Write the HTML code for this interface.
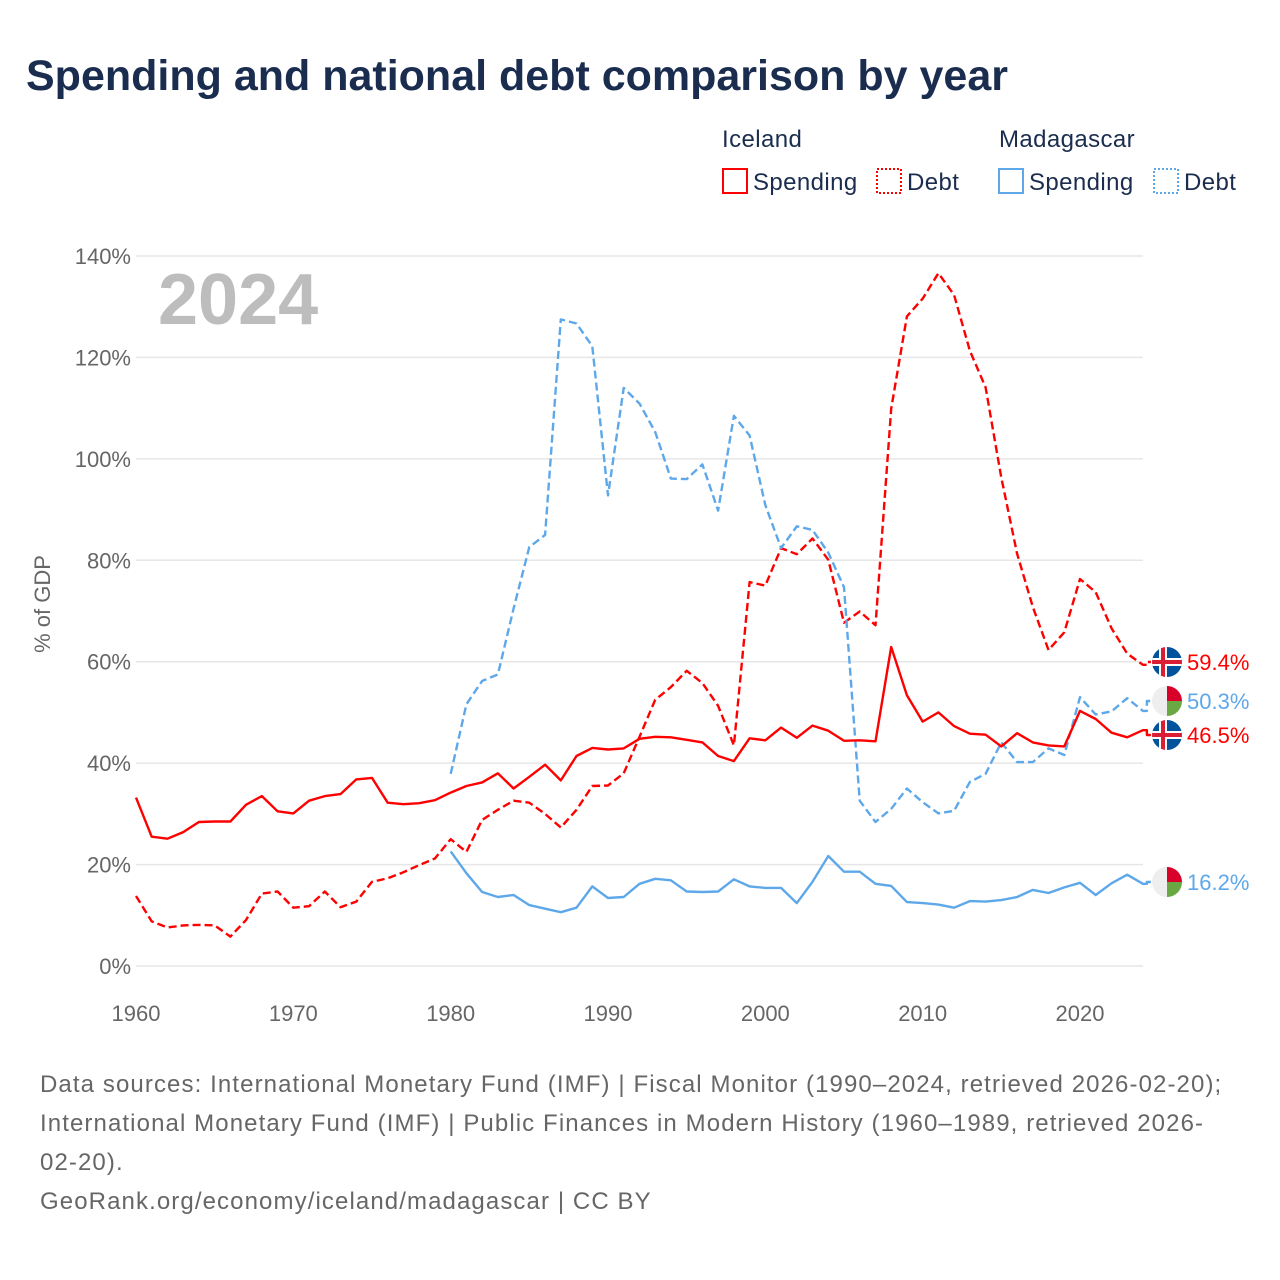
<!DOCTYPE html>
<html><head><meta charset="utf-8">
<style>
body{margin:0;background:#fff;font-family:"Liberation Sans",sans-serif;}
#wrap{position:relative;width:1280px;height:1280px;overflow:hidden;}
h1{position:absolute;left:26px;top:52px;margin:0;font-size:43px;font-weight:bold;color:#1b2d4f;letter-spacing:0px;}
.src{position:absolute;left:40px;top:1065px;font-size:24px;line-height:39px;color:#666;width:1200px;letter-spacing:1.1px;}
svg text{font-family:"Liberation Sans",sans-serif;}
</style></head><body>
<div id="wrap">
<h1>Spending and national debt comparison by year</h1>
<svg id="chart" width="1280" height="1280" style="position:absolute;left:0;top:0"></svg>
<div class="src">Data sources: International Monetary Fund (IMF) | Fiscal Monitor (1990–2024, retrieved 2026-02-20); International Monetary Fund (IMF) | Public Finances in Modern History (1960–1989, retrieved 2026-02-20).<br>GeoRank.org/economy/iceland/madagascar | CC BY</div>
</div>
<script>
const yTicks=[0,20,40,60,80,100,120,140];
const xTicks=[1960,1970,1980,1990,2000,2010,2020];
const isYears0=1960;
const isSpending=[33.2,25.5,25.1,26.4,28.4,28.5,28.5,31.8,33.5,30.5,30.1,32.6,33.5,33.9,36.8,37.1,32.2,31.9,32.1,32.7,34.2,35.5,36.2,38.0,35.0,37.3,39.7,36.6,41.4,43.0,42.7,42.9,44.8,45.2,45.1,44.6,44.1,41.4,40.4,44.9,44.5,47.0,45.0,47.4,46.4,44.4,44.5,44.3,62.9,53.4,48.2,50.0,47.3,45.8,45.6,43.3,45.9,44.1,43.5,43.3,50.3,48.7,46.0,45.1,46.5];
const isDebt=[13.8,8.8,7.6,8.0,8.1,8.0,5.8,9.1,14.3,14.7,11.5,11.8,14.7,11.6,12.7,16.6,17.3,18.5,19.9,21.2,25.0,22.5,28.8,30.8,32.6,32.2,30.0,27.3,30.8,35.5,35.6,38.0,45.2,52.5,55.0,58.2,55.8,51.3,43.5,75.7,75.0,82.4,81.2,84.3,80.1,67.7,69.9,67.2,109.9,128.1,131.6,136.6,132.3,121.3,114.1,96.3,81.3,70.8,62.3,65.8,76.3,73.7,66.6,61.6,59.4];
const mgYears0=1980;
const mgDebt=[37.9,51.6,56.2,57.5,70.5,82.6,85.0,127.5,126.7,122.2,92.8,114.0,110.9,105.3,96.1,96.0,98.9,89.8,108.5,104.6,90.9,82.4,86.7,86.0,81.5,74.7,32.6,28.4,31.0,35.0,32.3,30.1,30.6,36.3,37.9,44.1,40.2,40.2,42.9,41.6,53.0,49.6,50.2,52.8,50.3];
const mgSpending=[22.6,18.3,14.6,13.6,14.0,12.0,11.3,10.6,11.5,15.7,13.4,13.6,16.2,17.2,16.9,14.7,14.6,14.7,17.1,15.7,15.4,15.4,12.4,16.6,21.7,18.6,18.6,16.2,15.8,12.6,12.4,12.1,11.5,12.8,12.7,13.0,13.6,15.0,14.4,15.5,16.4,14.0,16.3,18.0,16.2];

const NS="http://www.w3.org/2000/svg";
const svg=document.getElementById('chart');
const X=y=>136+(y-1960)*(944/60);
const Y=v=>966-v*(710/140);
function el(t,a,p){const e=document.createElementNS(NS,t);for(const k in a)e.setAttribute(k,a[k]);(p||svg).appendChild(e);return e;}
function txt(x,y,s,a){const e=el('text',Object.assign({x:x,y:y},a));e.textContent=s;return e;}

yTicks.forEach(v=>{
  const g=el('line',{x1:136,x2:1143,y1:Y(v),y2:Y(v),stroke:'#e6e6e6','stroke-width':1.5});
  
  
  const t=txt(131,Y(v)+8,v+'%',{'text-anchor':'end','font-size':22,fill:'#666'});
  
  
});
xTicks.forEach(yr=>{
  const t=txt(X(yr),1021,String(yr),{'text-anchor':'middle','font-size':22,fill:'#666'});
  
  
});
const yt=txt(0,0,'% of GDP',{transform:'translate(50,604) rotate(-90)','text-anchor':'middle','font-size':22,fill:'#666'});


const yr=txt(158,324,'2024',{'font-size':72,'font-weight':'bold',fill:'#bdbdbd'});



function series(arr,y0,color,dash,name,labelY){
  const pts=arr.map((v,i)=>X(y0+i).toFixed(1)+','+Y(v).toFixed(1));
  const last=arr[arr.length-1];
  pts.push((X(y0+arr.length-1)+4).toFixed(1)+','+Y(last).toFixed(1));
  pts.push((X(y0+arr.length-1)+4).toFixed(1)+','+labelY);
  pts.push((X(y0+arr.length-1)+8).toFixed(1)+','+labelY);
  const p=el('polyline',{points:pts.join(' '),fill:'none',stroke:color,'stroke-width':2.4,'stroke-dasharray':dash?'8,4':'none','stroke-linejoin':'round'});
  
  
  const t=txt(1187,labelY+8,last.toFixed(1)+'%',{'font-size':22,fill:color});
  
  
}
series(isDebt,isYears0,'#ff0000',true,'iceland-debt',662);
series(mgDebt,mgYears0,'#5ea8ea',true,'madagascar-debt',701);
series(isSpending,isYears0,'#ff0000',false,'iceland-spending',735);
series(mgSpending,mgYears0,'#5ea8ea',false,'madagascar-spending',882);

function flagIS(cy,name){
  const g=el('g',{});
  
  
  const cp=el('clipPath',{id:'c'+name},g);el('circle',{cx:1167,cy:cy,r:15},cp);
  const h=el('g',{'clip-path':'url(#c'+name+')'},g);
  el('rect',{x:1152,y:cy-15,width:30,height:30,fill:'#02529c'},h);
  el('rect',{x:1152,y:cy-4,width:30,height:8,fill:'#fff'},h);
  el('rect',{x:1159,y:cy-15,width:8,height:30,fill:'#fff'},h);
  el('rect',{x:1152,y:cy-2,width:30,height:4,fill:'#dc1e35'},h);
  el('rect',{x:1161,y:cy-15,width:4,height:30,fill:'#dc1e35'},h);
}
function flagMG(cy,name){
  const g=el('g',{});
  
  
  const cp=el('clipPath',{id:'c'+name},g);el('circle',{cx:1167,cy:cy,r:15},cp);
  const h=el('g',{'clip-path':'url(#c'+name+')'},g);
  el('rect',{x:1152,y:cy-15,width:30,height:30,fill:'#eeeeee'},h);
  el('rect',{x:1167,y:cy-15,width:15,height:15,fill:'#d9002a'},h);
  el('rect',{x:1167,y:cy,width:15,height:15,fill:'#6aa843'},h);
}
flagIS(662,'iceland-flag-debt');flagMG(701,'madagascar-flag-debt');flagIS(735,'iceland-flag-spending');flagMG(882,'madagascar-flag-spending');

function lg(x,y,s,a,name){const t=txt(x,y,s,a);}
lg(722,147,'Iceland',{'font-size':24,fill:'#1b2d4f','letter-spacing':0.4},'legend-group-iceland');
lg(999,147,'Madagascar',{'font-size':24,fill:'#1b2d4f','letter-spacing':0.4},'legend-group-madagascar');
function box(x,color,dash,label,name){
  const g=el('g',{});
  
  
  el('rect',{x:x,y:169,width:24,height:24,fill:'none',stroke:color,'stroke-width':2,'stroke-dasharray':dash?'2,2':'none'},g);
  const t=el('text',{x:x+30,y:190,'font-size':24,fill:'#1b2d4f','letter-spacing':0.4},g);t.textContent=label;
}
box(723,'#ff0000',false,'Spending','legend-iceland-spending');
box(877,'#ff0000',true,'Debt','legend-iceland-debt');
box(999,'#5ea8ea',false,'Spending','legend-madagascar-spending');
box(1154,'#5ea8ea',true,'Debt','legend-madagascar-debt');
</script>
</body></html>
